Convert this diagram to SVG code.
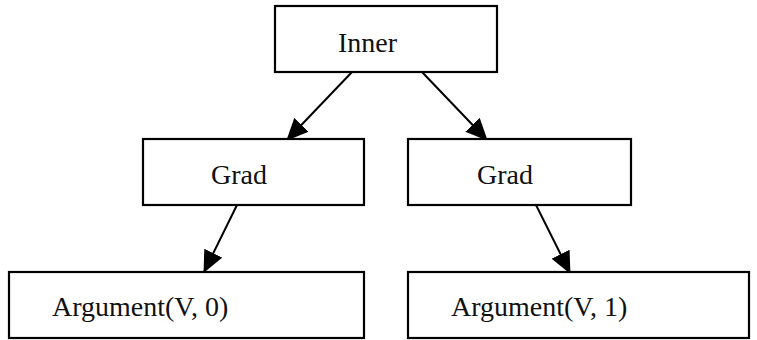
<svg xmlns="http://www.w3.org/2000/svg" width="757" height="340" viewBox="0 0 757 340">
<style>
rect.n{fill:#fff;stroke:#000;stroke-width:2.2}
text{font-family:"Liberation Serif","DejaVu Serif",serif;font-size:28px;fill:#111}
line.e{stroke:#000;stroke-width:2;marker-end:url(#ah)}
</style>
<defs>
<marker id="ah" viewBox="0 0 22 20" refX="21" refY="10" markerWidth="22" markerHeight="20" markerUnits="userSpaceOnUse" orient="auto">
<path d="M0,0 L22,10 L0,20 z" fill="#000"/>
</marker>
</defs>
<rect width="757" height="340" fill="#fff"/>
<g id="connectors">
<line class="e" x1="352" y1="72" x2="287" y2="140"/>
<line class="e" x1="422" y1="72" x2="487" y2="140"/>
<line class="e" x1="237" y1="205" x2="204" y2="272"/>
<line class="e" x1="536" y1="205" x2="570" y2="273"/>
</g>
<g id="inner"><rect class="n" x="275" y="6" width="222" height="66"/><text x="338" y="52">Inner</text></g>
<g id="grad1"><rect class="n" x="143" y="139" width="221" height="66"/><text x="211" y="184">Grad</text></g>
<g id="grad2"><rect class="n" x="408" y="139" width="223" height="66"/><text x="477" y="184">Grad</text></g>
<g id="arg0"><rect class="n" x="9" y="272" width="355" height="66"/><text x="52" y="316">Argument(V, 0)</text></g>
<g id="arg1"><rect class="n" x="408" y="272" width="341" height="66"/><text x="451" y="316">Argument(V, 1)</text></g>
</svg>
